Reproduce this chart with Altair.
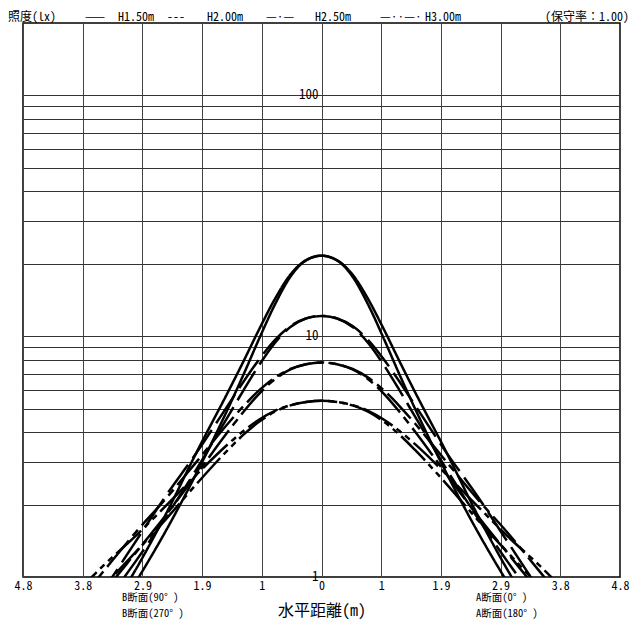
import altair as alt
import pandas as pd

FONT = "Noto Sans Mono CJK JP, Noto Sans CJK JP, sans-serif"

# horizontal distance sample points (m), mirrored to both sides
dist = [0, 0.25, 0.5, 0.75, 1.0, 1.25, 1.5, 2.0, 2.5, 3.0, 3.5, 4.0]

# illuminance (lx), two sections per mounting height
h150_a = [21.6, 20.65, 17.67, 13.53, 9.80, 6.97, 5.03, 2.73, 1.56, 0.94, 0.59, 0.40]
h150_b = [21.6, 20.69, 18.03, 14.27, 10.72, 7.91, 5.89, 3.33, 1.83, 1.06, 0.66, 0.45]
h200_a = [12.15, 11.85, 10.93, 9.38, 7.61, 5.99, 4.66, 2.83, 1.78, 1.15, 0.77, 0.53]
h200_b = [12.15, 11.86, 11.02, 9.64, 8.03, 6.50, 5.19, 3.31, 2.18, 1.39, 0.89, 0.60]
h250_a = [7.78, 7.65, 7.28, 6.63, 5.78, 4.87, 4.03, 2.69, 1.81, 1.25, 0.87, 0.63]
h250_b = [7.78, 7.65, 7.31, 6.73, 5.97, 5.14, 4.35, 3.03, 2.12, 1.52, 1.06, 0.74]
h300_a = [5.40, 5.33, 5.16, 4.86, 4.42, 3.91, 3.38, 2.45, 1.74, 1.26, 0.92, 0.68]
h300_b = [5.40, 5.33, 5.17, 4.90, 4.51, 4.05, 3.57, 2.68, 1.98, 1.47, 1.12, 0.83]

heights = ["H1.50m", "H2.00m", "H2.50m", "H3.00m"]
x_ticks = [-4.8, -3.84, -2.88, -1.92, -0.96, 0, 0.96, 1.92, 2.88, 3.84, 4.8]
x_labels = ["4.8", "3.8", "2.9", "1.9", "1", "0", "1", "1.9", "2.9", "3.8", "4.8"]
y_grid = [2, 3, 4, 5, 6, 7, 8, 9, 10, 20, 30, 40, 50, 60, 70, 80, 90, 100]
y_label_values = [1, 10, 100]
y_label_texts = ["1", "10", "100"]

header_left = ["照度(lx)", "——", "H1.50m", "---", "H2.00m", "—·—", "H2.50m", "—··—·", "H3.00m"]
header_right = "(保守率：1.00)"
b_labels = ["B断面(90° )", "B断面(270° )"]
a_labels = ["A断面(0° )", "A断面(180° )"]
x_title = "水平距離(m)"

series = [
    ("H1.50m", "a", h150_a), ("H1.50m", "b", h150_b),
    ("H2.00m", "a", h200_a), ("H2.00m", "b", h200_b),
    ("H2.50m", "a", h250_a), ("H2.50m", "b", h250_b),
    ("H3.00m", "a", h300_a), ("H3.00m", "b", h300_b),
]
rows = []
for h, s, vals in series:
    for d, e in zip(dist, vals):
        rows.append({"x": d, "E": e, "height": h, "curve": h + s})
        if d != 0:
            rows.append({"x": -d, "E": e, "height": h, "curve": h + s})
df = pd.DataFrame(rows)

label_expr = " : ".join(
    f"abs(datum.value - ({v})) < 0.01 ? '{l}'" for v, l in zip(x_ticks, x_labels)
) + " : ''"

xscale = alt.Scale(domain=[-4.8, 4.8], nice=False, zero=False)
yscale = alt.Scale(type="log", domain=[1, 200], nice=False)

lines = alt.Chart(df).mark_line(
    clip=True, strokeWidth=2.5, color="black", interpolate="monotone"
).encode(
    x=alt.X("x:Q", scale=xscale, axis=alt.Axis(
        values=x_ticks, grid=True, gridColor="#444", gridWidth=1,
        domain=False, ticks=False, labelExpr=label_expr,
        labelFont=FONT, labelFontSize=12, labelColor="black", labelPadding=3,
        labelFlush=False, title=x_title, titleFont=FONT, titleFontSize=16,
        titleFontWeight="normal", titleColor="black", titlePadding=11)),
    y=alt.Y("E:Q", scale=yscale, axis=alt.Axis(
        values=y_grid, grid=True, gridColor="#333", gridWidth=1,
        domain=False, ticks=False, labels=False, title=None)),
    strokeDash=alt.StrokeDash("height:N", scale=alt.Scale(
        domain=heights, range=[[1, 0], [34, 8], [34, 6, 8, 6], [34, 5, 6, 5, 6, 5]]),
        legend=None),
    detail="curve:N",
)

ylab_df = pd.DataFrame({"x": [0] * len(y_label_values), "E": y_label_values, "t": y_label_texts})
ylabels = alt.Chart(ylab_df).mark_text(
    align="right", baseline="middle", dx=-3, font=FONT, fontSize=13, color="black"
).encode(x=alt.X("x:Q", scale=xscale), y=alt.Y("E:Q", scale=yscale), text="t:N")

one = pd.DataFrame({"v": [0]})


def label(txt, x, y, align="left", size=13, baseline="middle", line_height=13):
    return alt.Chart(one).mark_text(
        text=txt, align=align, baseline=baseline, font=FONT, fontSize=size,
        lineHeight=line_height, color="black"
    ).encode(x=alt.value(x), y=alt.value(y))


hx = [-15, 62, 95, 144, 184, 243, 292, 357, 402]
layers = [lines, ylabels]
for t, x in zip(header_left, hx):
    layers.append(label(t, x, -6, size=12))
layers.append(label(header_right, 606, -6, align="right", size=12))
layers.append(label(b_labels, 99, 570, size=10.5, baseline="top", line_height=15.5))
layers.append(label(a_labels, 453, 570, size=10.5, baseline="top", line_height=15.5))

chart = alt.layer(*layers).properties(
    width=597, height=554,
    autosize=alt.AutoSizeParams(type="none"),
    padding={"left": 15, "top": 15, "right": 9, "bottom": 47},
).configure_view(stroke="black", strokeWidth=1.5)

chart.save("out.html", embed_options={"renderer": "svg", "actions": False})
